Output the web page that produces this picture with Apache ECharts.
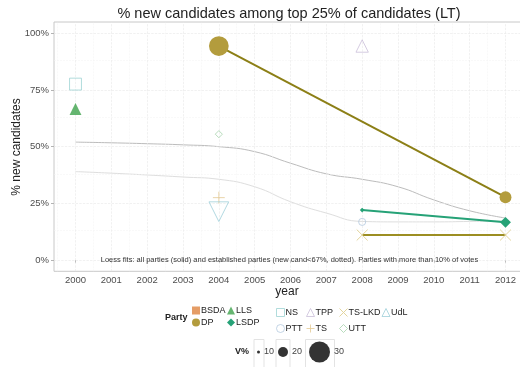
<!DOCTYPE html>
<html>
<head>
<meta charset="utf-8">
<script src="https://cdn.jsdelivr.net/npm/echarts@6/dist/echarts.min.js"></script>
<style>
  html, body { margin: 0; background: #fff; }
  #chart { width: 520px; height: 367px; }
</style>
</head>
<body>
<div id="chart"></div>
<script>
// axis ticks
const years = [2000, 2001, 2002, 2003, 2004, 2005, 2006, 2007, 2008, 2009, 2010, 2011, 2012];
const shareTicks = [0, 0.25, 0.5, 0.75, 1];

// loess fits (all parties solid, established parties dotted)
const loessAll = [0.52, 0.517, 0.513, 0.508, 0.5, 0.478, 0.427, 0.38, 0.356, 0.323, 0.265, 0.217, 0.185];
const loessEstablished = [0.39, 0.383, 0.375, 0.366, 0.356, 0.323, 0.257, 0.207, 0.17, 0.168, 0.168, 0.17, 0.172];

// party observations: year, share of new candidates, vote %
const dpYears = [2004, 2012];
const dpNew = [0.944, 0.277];
const dpVote = [29, 22];
const llsYears = [2000];
const llsNew = [0.666];
const llsVote = [22];
const lsdpYears = [2008, 2012];
const lsdpNew = [0.22, 0.166];
const lsdpVote = [13, 21];
const nsYears = [2000];
const nsNew = [0.776];
const nsVote = [22];
const pttYears = [2008];
const pttNew = [0.168];
const pttVote = [16.5];
const tppYears = [2008];
const tppNew = [0.944];
const tppVote = [22.5];
const tsYears = [2004];
const tsNew = [0.275];
const tsVote = [22];
const tslkdYears = [2008, 2012];
const tslkdNew = [0.11, 0.11];
const tslkdVote = [21, 21];
const udlYears = [2004];
const udlNew = [0.213];
const udlVote = [29];
const uttYears = [2004];
const uttNew = [0.555];
const uttVote = [16.5];

const sizeBreaks = [10, 20, 30];

// marker diameter from vote share
const markerSize = (v) => 0.02 * v * v + 0.1 * v;

const plusPath = "path://M5,0L5,10M0,5L10,5";
const crossPath = "path://M0,0L10,10M10,0L0,10";

const styles = {
  BSDA: { symbol: "rect", color: "#de8440", open: false },
  DP: { symbol: "circle", color: "#b39c3d", open: false, line: "#8c7f16" },
  LLS: { symbol: "triangle", color: "#3ea34c", open: false },
  LSDP: { symbol: "diamond", color: "#26a277", open: false, line: "#26a277" },
  NS: { symbol: "rect", color: "#9ed3d3", open: true },
  PTT: { symbol: "circle", color: "#b4c9df", open: true },
  TPP: { symbol: "triangle", color: "#cbbfd9", open: true },
  TS: { symbol: plusPath, color: "#e4c994", open: true },
  "TS-LKD": { symbol: crossPath, color: "#e3d59c", open: true, line: "#9c8e22" },
  UdL: { symbol: "triangle", color: "#9fcfda", open: true, rotate: 180 },
  UTT: { symbol: "diamond", color: "#a6d3ad", open: true }
};

function itemStyleFor(name) {
  const s = styles[name];
  return s.open
    ? { color: "none", borderColor: s.color, borderWidth: 1 }
    : { color: s.color, borderWidth: 0 };
}

function partySeries(name, yrs, vals, votes) {
  const s = styles[name];
  return {
    name: name,
    type: s.line ? "line" : "scatter",
    xAxisIndex: 0,
    yAxisIndex: 0,
    data: yrs.map((y, i) => [y, vals[i], votes[i]]),
    symbol: s.symbol,
    symbolRotate: s.rotate || 0,
    symbolSize: (d) => markerSize(d[2]),
    showAllSymbol: true,
    itemStyle: itemStyleFor(name),
    lineStyle: s.line ? { color: s.line, width: 2 } : undefined,
    z: 5,
    silent: true,
    animation: false
  };
}

const legendCols = [
  { x: 196, names: ["BSDA", "DP"] },
  { x: 231, names: ["LLS", "LSDP"] },
  { x: 278, names: ["NS", "PTT"] },
  { x: 308, names: ["TPP", "TS"] },
  { x: 341, names: ["TS-LKD", "UTT"] },
  { x: 383.5, names: ["UdL"] }
];

const font = "Liberation Sans";

const legends = legendCols.map((col) => ({
  orient: "vertical",
  left: col.x - 4,
  top: 306,
  padding: 0,
  itemWidth: 8,
  itemHeight: 8,
  itemGap: 3,
  selectedMode: false,
  textStyle: { fontSize: 9, color: "#222", fontFamily: font, padding: [0, 0, 0, -4] },
  data: col.names.map((n) => ({
    name: n,
    icon: styles[n].symbol,
    itemStyle: itemStyleFor(n),
    lineStyle: { width: 0, opacity: 0 }
  }))
}));

const midpoints = (arr) => arr.slice(1).map((v, i) => (v + arr[i]) / 2);
const step = years[1] - years[0];
const minorYears = [years[0] - step / 2, ...midpoints(years), years[years.length - 1] + step / 2];
const minorShares = midpoints(shareTicks);

const gridLines = [
  ...minorYears.map((v) => ({ xAxis: v, lineStyle: { color: "#f3f3f3", width: 0.5 } })),
  ...minorShares.map((v) => ({ yAxis: v, lineStyle: { color: "#f3f3f3", width: 0.5 } })),
  ...years.map((v) => ({ xAxis: v, lineStyle: { color: "#e8e8e8", width: 0.6 } })),
  ...shareTicks.map((v) => ({ yAxis: v, lineStyle: { color: "#e8e8e8", width: 0.6 } }))
];

const sizeX = [258.5, 283, 319.5];
const sizeBoxes = [[254, 10], [276, 14], [305.5, 29]];

const graphics = [
  { type: "text", x: 289, y: 14, style: { text: "% new candidates among top 25% of candidates (LT)", fontSize: 14.5, fontFamily: font, fill: "#222", align: "center", verticalAlign: "middle" } },
  { type: "text", x: 17, y: 147, rotation: Math.PI / 2, style: { text: "% new candidates", fontSize: 12, fontFamily: font, fill: "#222", align: "center", verticalAlign: "middle" } },
  { type: "text", x: 287, y: 292, style: { text: "year", fontSize: 12, fontFamily: font, fill: "#222", align: "center", verticalAlign: "middle" } },
  { type: "text", x: 289.5, y: 259.5, z: 10, style: { text: "Loess fits: all parties (solid) and established parties (new cand<67%, dotted). Parties with more than 10% of votes", fontSize: 7.5, fontFamily: font, fill: "#333", align: "center", verticalAlign: "middle" } },
  { type: "text", x: 165, y: 317.5, style: { text: "Party", fontSize: 9, fontWeight: "bold", fontFamily: font, fill: "#222", verticalAlign: "middle" } },
  { type: "text", x: 235, y: 352, style: { text: "V%", fontSize: 9, fontWeight: "bold", fontFamily: font, fill: "#222", verticalAlign: "middle" } },
  ...sizeBoxes.map((b) => ({ type: "rect", shape: { x: b[0], y: 339.5, width: b[1], height: 30 }, style: { fill: "none", stroke: "#e3e3e3", lineWidth: 1 } })),
  ...sizeBreaks.map((v, i) => ({ type: "circle", shape: { cx: sizeX[i], cy: 352, r: markerSize(v) / 2 }, style: { fill: "#333" } })),
  ...sizeBreaks.map((v, i) => ({ type: "text", x: sizeX[i] + markerSize(v) / 2 + 4, y: 352, style: { text: String(v), fontSize: 9, fontFamily: font, fill: "#444", verticalAlign: "middle" } }))
];

const chart = echarts.init(document.getElementById("chart"), null, { renderer: "canvas" });

chart.setOption({
  animation: false,
  backgroundColor: "#fff",
  textStyle: { fontFamily: font },
  grid: [
    { left: 54, top: 22, width: 473, height: 249.3, show: true, borderColor: "#c8c8c8", borderWidth: 1, backgroundColor: "#fff", outerBoundsMode: "none", containLabel: false },
    { left: 75.5, top: 33.3, width: 430, height: 226.7, outerBoundsMode: "none", containLabel: false }
  ],
  xAxis: [
    { type: "value", gridIndex: 0, min: 1999.4, max: 2012.6, show: false },
    {
      type: "value", gridIndex: 1, min: years[0], max: years[years.length - 1], interval: step, offset: 11.3,
      axisLine: { show: false },
      axisTick: { show: true, length: 3, lineStyle: { color: "#b3b3b3" } },
      axisLabel: { fontSize: 9.5, color: "#4d4d4d", margin: 4, fontFamily: font, formatter: (v) => String(v) },
      splitLine: { show: false }
    }
  ],
  yAxis: [
    { type: "value", gridIndex: 0, min: -0.05, max: 1.05, show: false },
    {
      type: "value", gridIndex: 1, min: shareTicks[0], max: shareTicks[shareTicks.length - 1], interval: 0.25, offset: 21.5,
      axisLine: { show: false },
      axisTick: { show: true, length: 3, lineStyle: { color: "#b3b3b3" } },
      axisLabel: { fontSize: 9.5, color: "#4d4d4d", margin: 5, fontFamily: font, formatter: (v) => Math.round(v * 100) + "%" },
      splitLine: { show: false }
    }
  ],
  legend: legends,
  graphic: graphics,
  series: [
    {
      type: "scatter", xAxisIndex: 0, yAxisIndex: 0, data: [], silent: true,
      markLine: { silent: true, symbol: "none", label: { show: false }, animation: false, data: gridLines }
    },
    {
      type: "line", xAxisIndex: 0, yAxisIndex: 0, smooth: true, symbol: "none", silent: true, z: 2,
      data: years.map((y, i) => [y, loessEstablished[i]]),
      lineStyle: { color: "#dedede", width: 1 }
    },
    {
      type: "line", xAxisIndex: 0, yAxisIndex: 0, smooth: true, symbol: "none", silent: true, z: 2,
      data: years.map((y, i) => [y, loessAll[i]]),
      lineStyle: { color: "#bcbcbc", width: 1 }
    },
    partySeries("BSDA", [], [], []),
    partySeries("DP", dpYears, dpNew, dpVote),
    partySeries("LLS", llsYears, llsNew, llsVote),
    partySeries("LSDP", lsdpYears, lsdpNew, lsdpVote),
    partySeries("NS", nsYears, nsNew, nsVote),
    partySeries("PTT", pttYears, pttNew, pttVote),
    partySeries("TPP", tppYears, tppNew, tppVote),
    partySeries("TS", tsYears, tsNew, tsVote),
    partySeries("TS-LKD", tslkdYears, tslkdNew, tslkdVote),
    partySeries("UdL", udlYears, udlNew, udlVote),
    partySeries("UTT", uttYears, uttNew, uttVote)
  ]
});
</script>
</body>
</html>
